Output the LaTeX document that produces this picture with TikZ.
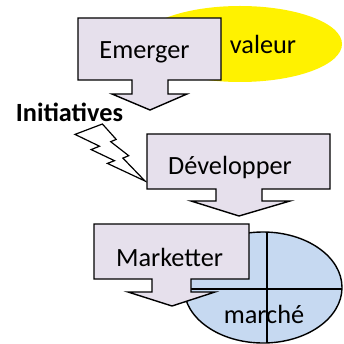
\documentclass[tikz,border=0pt]{standalone}
\usepackage{fontspec}
\setmainfont{Carlito}
\begin{document}
\begin{tikzpicture}[x=1pt,y=-1pt,
  callout/.style={draw=black,line width=1.4pt,fill=boxfill,line join=miter},
  lbl/.style={inner sep=0pt,anchor=base,font=\fontsize{26.3}{31}\selectfont},
  boltstyle/.style={draw=black,line width=1.2pt,fill=white,line join=miter}]
\definecolor{boxfill}{HTML}{E6E0EC}
\definecolor{mktblue}{HTML}{C6D9F1}
\useasboundingbox (0,0) rectangle (343,344);
\clip (0,0) rectangle (343,344);
% valeur ellipse
\fill[yellow] (240,44) ellipse [x radius=102, y radius=38];
% Emerger callout
\draw[callout] (78,18) -- (221,18) -- (221,80) -- (168,80) -- (168,94) -- (187,94)
  -- (150,110) -- (112,94) -- (132,94) -- (132,80) -- (78,80) -- cycle;
\node[lbl] (emerger) at (144.5,59) {Emerger};
\node[lbl] (valeur) at (263,54) {valeur};
% Initiatives + bolt
\node[lbl,font=\fontsize{26.3}{31}\selectfont\bfseries] (init) at (69.5,122) {Initiatives};
\draw[boltstyle] (102.4,124) -- (75,134.4) -- (99.5,146.2) -- (91.2,149.6) -- (114.5,160.7)
  -- (107.4,163.4) -- (145,181) -- (122.9,158.1) -- (128.7,155.7) -- (110.7,141.7)
  -- (116.2,139.4) -- cycle;
% Developper callout
\draw[callout] (147,134) -- (330,134) -- (330,189) -- (262,189) -- (262,201) -- (290,201)
  -- (239,216) -- (191,201) -- (216,201) -- (216,189) -- (147,189) -- cycle;
\node[lbl] (dev) at (230,175) {Développer};
% marche ellipse
\begin{scope}
  \fill[mktblue] (263,287.5) ellipse [x radius=79, y radius=55.5];
  \clip (263,287.5) ellipse [x radius=79, y radius=55.5];
  \draw[line width=1.4pt] (267,220) -- (267,350);
  \draw[line width=1.4pt] (180,289) -- (350,289);
\end{scope}
\draw[line width=1.4pt] (263,287.5) ellipse [x radius=79, y radius=55.5];
\node[lbl] (marche) at (264,323) {marché};
% Marketter callout
\draw[callout] (94,224) -- (249,224) -- (249,279) -- (191,279) -- (191,292) -- (215,292)
  -- (172,306) -- (128,292) -- (152,292) -- (152,279) -- (94,279) -- cycle;
\node[lbl] (mkt) at (169.5,266) {Marketter};
\end{tikzpicture}
\end{document}
